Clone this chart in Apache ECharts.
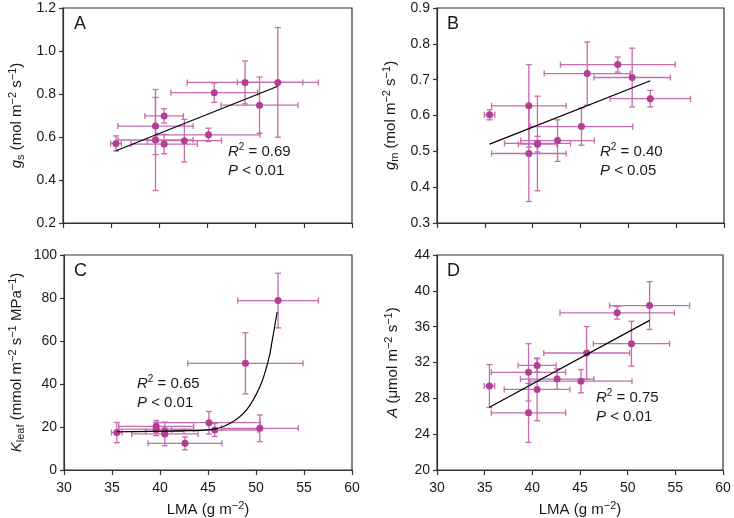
<!DOCTYPE html>
<html>
<head>
<meta charset="utf-8">
<script src="https://cdn.jsdelivr.net/npm/echarts@6/dist/echarts.min.js"></script>
<style>
  html, body { margin: 0; padding: 0; background: #fff; }
  #main { width: 734px; height: 518px; }
</style>
</head>
<body>
<div id="main"></div>
<script>
// LMA per species (shared x for all panels) and its error
var lma = [35.5, 39.6, 39.6, 40.5, 40.5, 42.6, 45.1, 45.7, 48.9, 50.4, 52.3];
var lmaErr = [0.55, 3.9, 3.9, 2.0, 3.45, 3.85, 5.35, 4.5, 6.0, 4.0, 4.2];

// panel A: gs
var gs = [0.570, 0.651, 0.586, 0.698, 0.567, 0.583, 0.610, 0.806, 0.854, 0.748, 0.854];
var gsErr = [0.035, 0.133, 0.235, 0.033, 0.045, 0.099, 0.031, 0.045, 0.100, 0.131, 0.255];
// panel B: gm
var gm = [0.602, 0.627, 0.494, 0.520, 0.522, 0.530, 0.569, 0.717, 0.742, 0.706, 0.647];
var gmErr = [0.014, 0.115, 0.134, 0.022, 0.132, 0.058, 0.052, 0.088, 0.021, 0.082, 0.023];
// panel C: Kleaf
var kleaf = [17.4, 20.3, 19.0, 18.0, 16.8, 12.4, 22.0, 18.6, 49.6, 19.4, 78.8];
var kleafErr = [4.7, 2.7, 3.0, 1.5, 5.5, 3.0, 5.2, 3.0, 14.2, 6.2, 12.7];
// panel D: A
var photo = [29.37, 30.9, 26.38, 31.67, 29.0, 30.15, 29.92, 33.06, 37.55, 34.1, 38.35];
var photoErr = [2.4, 3.2, 3.3, 0.75, 3.5, 1.15, 1.3, 2.95, 0.7, 2.5, 2.67];

// fitted lines
var fitA = [[35.5, 0.536], [52.3, 0.836]];
var fitB = [[35.5, 0.520], [52.3, 0.697]];
var fitC = [[35.5, 17.8], [42, 18.2], [45.5, 18.9], [47.3, 21.7], [49, 27.9], [50.4, 38.7], [51.3, 51.2], [51.7, 60.5], [52.2, 73.5]];
var fitD = [[35.5, 27.0], [52.3, 36.7]];

var ptColor = '#b23e96';
var barColor = '#c56bae';
var ink = '#1a1a1a';
var font = 'Liberation Sans, Arial, sans-serif';

var rich = {
    i: {fontStyle: 'italic', fontSize: 15, fontFamily: font, color: ink, lineHeight: 19},
    n: {fontSize: 15, fontFamily: font, color: ink, lineHeight: 19},
    sub: {fontSize: 11, fontFamily: font, color: ink, verticalAlign: 'bottom', lineHeight: 12},
    sup: {fontSize: 11, fontFamily: font, color: ink, verticalAlign: 'top', lineHeight: 12}
};

var zip = (xs, ys, ex, ey) => xs.map((x, i) => [x, ys[i], ex ? ex[i] : 0, ey ? ey[i] : 0]);

var errRender = (params, api) => {
    var x = api.value(0), y = api.value(1), ex = api.value(2), ey = api.value(3);
    var l = api.coord([x - ex, y]), r = api.coord([x + ex, y]);
    var t = api.coord([x, y + ey]), b = api.coord([x, y - ey]);
    var c = 3;
    var st = {stroke: barColor, lineWidth: 1.3};
    var seg = (x1, y1, x2, y2) => ({type: 'line', shape: {x1, y1, x2, y2}, style: st});
    return {
        type: 'group',
        children: [
            seg(l[0], l[1], r[0], r[1]),
            seg(l[0], l[1] - c, l[0], l[1] + c),
            seg(r[0], r[1] - c, r[0], r[1] + c),
            seg(t[0], t[1], b[0], b[1]),
            seg(t[0] - c, t[1], t[0] + c, t[1]),
            seg(b[0] - c, b[1], b[0] + c, b[1])
        ]
    };
};

var grids = [
    {left: 63, top: 8, width: 289, height: 215},
    {left: 437, top: 8, width: 287, height: 215},
    {left: 64, top: 255, width: 288, height: 215},
    {left: 437, top: 255, width: 286, height: 216}
].map(g => Object.assign(g, {show: true, borderColor: '#333', borderWidth: 1.2, backgroundColor: 'transparent'}));

var mkX = (idx, showLabels) => ({
    gridIndex: idx, type: 'value', min: 30, max: 60, interval: 5,
    axisLine: {lineStyle: {color: '#333', width: 1.2}},
    axisTick: {show: true, length: 5, lineStyle: {color: '#333', width: 1.2}},
    splitLine: {show: false},
    axisLabel: {show: showLabels, fontSize: 14, fontFamily: font, color: ink, margin: 11},
    name: showLabels ? '{n|LMA (g m}{sup|\u22122}{n|)}' : '',
    nameLocation: 'middle', nameGap: 30,
    nameTextStyle: {fontSize: 15, fontFamily: font, color: ink, rich: rich}
});

var mkY = (idx, min, max, step, dec, name, gap) => ({
    gridIndex: idx, type: 'value', min: min, max: max, interval: step,
    axisLine: {lineStyle: {color: '#333', width: 1.2}},
    axisTick: {show: true, length: 4, lineStyle: {color: '#333', width: 1.2}},
    splitLine: {show: false},
    axisLabel: {fontSize: 14, fontFamily: font, color: ink, margin: 7, formatter: v => v.toFixed(dec)},
    name: name, nameLocation: 'middle', nameRotate: 90, nameGap: gap,
    nameTextStyle: {fontSize: 15, fontFamily: font, color: ink, rich: rich}
});

var panel = (idx, ys, errs, fit) => [
    {type: 'custom', xAxisIndex: idx, yAxisIndex: idx, renderItem: errRender, data: zip(lma, ys, lmaErr, errs), z: 2},
    {type: 'scatter', xAxisIndex: idx, yAxisIndex: idx, symbolSize: 7, itemStyle: {color: ptColor, opacity: 1}, data: zip(lma, ys).map(d => [d[0], d[1]]), z: 3},
    {type: 'line', xAxisIndex: idx, yAxisIndex: idx, data: fit, showSymbol: false, smooth: fit.length > 2 ? 0.4 : false,
        lineStyle: {color: '#000', width: 1.2}, z: 4}
];

var label = (x, y, txt, size) => ({
    type: 'text', left: x, top: y,
    style: {text: txt, fontSize: size, fontFamily: font, fill: ink, rich: {
        i: {fontStyle: 'italic', fontSize: 15, fontFamily: font, fill: ink, lineHeight: 19},
        n: {fontSize: 15, fontFamily: font, fill: ink, lineHeight: 19},
        sup: {fontSize: 10, fontFamily: font, fill: ink, verticalAlign: 'top', lineHeight: 12}
    }}
});

var chart = echarts.init(document.getElementById('main'));
chart.setOption({
    animation: false,
    backgroundColor: '#fff',
    grid: grids,
    xAxis: [mkX(0, false), mkX(1, false), mkX(2, true), mkX(3, true)],
    yAxis: [
        mkY(0, 0.2, 1.2, 0.2, 1, '{i|g}{sub|s}{n| (mol m}{sup|\u22122}{n| s}{sup|\u22121}{n|)}', 37),
        mkY(1, 0.3, 0.9, 0.1, 1, '{i|g}{sub|m}{n| (mol m}{sup|\u22122}{n| s}{sup|\u22121}{n|)}', 37),
        mkY(2, 0, 100, 20, 0, '{i|K}{sub|leaf}{n| (mmol m}{sup|\u22122}{n| s}{sup|\u22121}{n| MPa}{sup|\u22121}{n|)}', 38),
        mkY(3, 20, 44, 4, 0, '{i|A}{n| (\u03bcmol m}{sup|\u22122}{n| s}{sup|\u22121}{n|)}', 35)
    ],
    series: [].concat(
        panel(0, gs, gsErr, fitA),
        panel(1, gm, gmErr, fitB),
        panel(2, kleaf, kleafErr, fitC),
        panel(3, photo, photoErr, fitD)
    ),
    graphic: [
        label(74, 15, 'A', 18),
        label(447, 15, 'B', 18),
        label(74, 262, 'C', 18),
        label(447, 262, 'D', 18),
        label(228, 142, '{i|R}{sup|2}{n| = 0.69}', 15),
        label(228, 163, '{i|P}{n| < 0.01}', 15),
        label(600, 142, '{i|R}{sup|2}{n| = 0.40}', 15),
        label(600, 163, '{i|P}{n| < 0.05}', 15),
        label(137, 374, '{i|R}{sup|2}{n| = 0.65}', 15),
        label(137, 395, '{i|P}{n| < 0.01}', 15),
        label(596, 388, '{i|R}{sup|2}{n| = 0.75}', 15),
        label(596, 409, '{i|P}{n| < 0.01}', 15)
    ]
});
</script>
</body>
</html>
